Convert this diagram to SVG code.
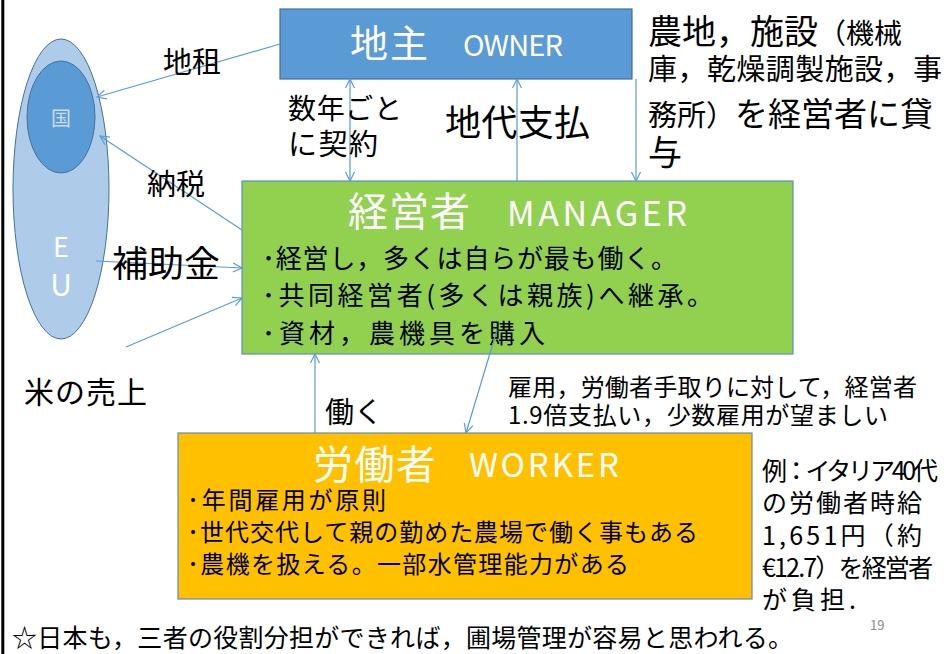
<svg xmlns="http://www.w3.org/2000/svg" width="949" height="654" viewBox="0 0 949 654">
<defs>
<marker id="arr" markerUnits="userSpaceOnUse" markerWidth="12" markerHeight="12" refX="9" refY="4.5" orient="auto-start-reverse" viewBox="-1 -1 12 12">
<path d="M0,0 L9,4.5 L0,9" fill="none" stroke="#5B9BD5" stroke-width="1.2"/>
</marker>
<style>
text{font-family:"Noto Sans CJK JP","Noto Sans",sans-serif;fill:#000}
.w{fill:#fff}
.con line{stroke:#5B9BD5;stroke-width:1.2;fill:none}
.box{stroke-width:1.2}
</style>
</defs>
<rect width="949" height="654" fill="#fff"/>
<line x1="2.8" y1="0" x2="2.8" y2="654" stroke="#000" stroke-width="3"/>

<g id="eu">
<ellipse cx="61" cy="189" rx="48" ry="150" fill="#AFCBEA" stroke="#41719C" stroke-width="1"/>
<text x="61" y="257" font-size="27" class="w" text-anchor="middle">E</text>
<text x="61" y="296" font-size="30" class="w" text-anchor="middle">U</text>
</g>
<g id="kuni">
<ellipse cx="61" cy="117" rx="34" ry="56" fill="#5B9BD5" stroke="#41719C" stroke-width="1"/>
<text x="61" y="126" font-size="20" style="fill:#C9DCF1" text-anchor="middle">国</text>
</g>

<g id="owner">
<rect class="box" x="280" y="9" width="352" height="70" fill="#5B9BD5" stroke="#41719C"/>
<text x="350" y="57" font-size="38" class="w" textLength="78">地主</text>
<text x="463" y="56" font-size="29" class="w" textLength="100">OWNER</text>
</g>

<g id="manager">
<rect class="box" x="242" y="181" width="551" height="173" fill="#92D050" stroke="#5E8DC5"/>
<text x="348" y="226" font-size="40" class="w" textLength="122">経営者</text>
<text x="507" y="226" font-size="34" class="w" textLength="180">MANAGER</text>
<text x="262" y="268" font-size="26" textLength="415">･経営し，多くは自らが最も働く。</text>
<text x="262" y="305" font-size="26" textLength="451">･共同経営者(多くは親族)へ継承。</text>
<text x="262" y="343" font-size="26" textLength="283">･資材，農機具を購入</text>
</g>

<g id="worker">
<rect class="box" x="178" y="433" width="574" height="166" fill="#FFC000" stroke="#5E8DC5"/>
<text x="313" y="479" font-size="40" class="w" textLength="123">労働者</text>
<text x="469" y="477" font-size="33" class="w" textLength="150">WORKER</text>
<text x="187" y="509" font-size="24" textLength="199">･年間雇用が原則</text>
<text x="187" y="541" font-size="24" textLength="511">･世代交代して親の勤めた農場で働く事もある</text>
<text x="187" y="573" font-size="24" textLength="442">･農機を扱える。一部水管理能力がある</text>
</g>

<g class="con" id="connectors">
<line x1="280" y1="44" x2="97" y2="97" marker-end="url(#arr)"/>
<line x1="242" y1="230" x2="100" y2="136" marker-end="url(#arr)"/>
<line x1="96" y1="261" x2="242" y2="268" marker-end="url(#arr)"/>
<line x1="126" y1="347" x2="242" y2="298" marker-end="url(#arr)"/>
<line x1="350" y1="79" x2="350" y2="181" marker-start="url(#arr)" marker-end="url(#arr)"/>
<line x1="517" y1="181" x2="517" y2="79" marker-end="url(#arr)"/>
<line x1="636" y1="79" x2="636" y2="181" marker-end="url(#arr)"/>
<line x1="315" y1="433" x2="315" y2="354" marker-end="url(#arr)"/>
<line x1="497" y1="330" x2="466" y2="433" marker-end="url(#arr)"/>
</g>

<g id="labels">
<text x="163" y="73" font-size="29">地租</text>
<text x="147" y="195" font-size="29">納税</text>
<text x="112" y="277" font-size="36">補助金</text>
<text x="24" y="403" font-size="30" textLength="123">米の売上</text>
<text x="288" y="119" font-size="28" textLength="114">数年ごと</text>
<text x="288" y="155" font-size="29" textLength="90">に契約</text>
<text x="445" y="136" font-size="36" textLength="145">地代支払</text>
<text x="325" y="423" font-size="29">働く</text>
<text x="648" y="44"><tspan font-size="34">農地，施設</tspan><tspan font-size="28">（機械</tspan></text>
<text x="648" y="80" font-size="29" textLength="294">庫，乾燥調製施設，事</text>
<text x="648" y="126"><tspan font-size="29">務所）</tspan><tspan font-size="33">を経営者に貸</tspan></text>
<text x="648" y="165" font-size="34">与</text>
<text x="508" y="396" font-size="24" textLength="409">雇用，労働者手取りに対して，経営者</text>
<text x="508" y="424" font-size="24" textLength="380">1.9倍支払い，少数雇用が望ましい</text>
<text x="762" y="480" font-size="25" textLength="176">例：イタリア40代</text>
<text x="762" y="512" font-size="25" textLength="160">の労働者時給</text>
<text x="762" y="545" font-size="25" textLength="160">1,651円（約</text>
<text x="762" y="577" font-size="25" textLength="171">€12.7）を経営者</text>
<text x="762" y="609" font-size="25" textLength="94">が負担.</text>
<text x="870" y="630" font-size="13" style="fill:#8C8C8C">19</text>
<text x="12" y="647" font-size="25" textLength="781">☆日本も，三者の役割分担ができれば，圃場管理が容易と思われる。</text>
</g>
</svg>
